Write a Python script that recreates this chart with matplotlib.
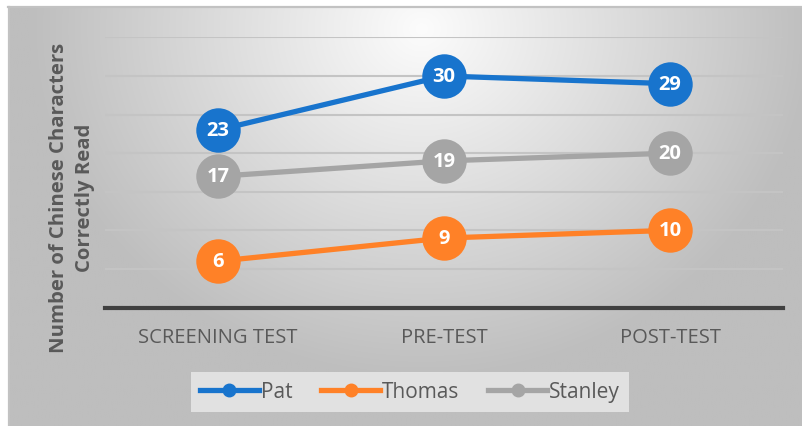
import numpy as np
import matplotlib
matplotlib.use("Agg")
import matplotlib.pyplot as plt
from matplotlib.lines import Line2D

categories = ["SCREENING TEST", "PRE-TEST", "POST-TEST"]
series_names = ["Pat", "Thomas", "Stanley"]
pat = [23, 30, 29]
thomas = [6, 9, 10]
stanley = [17, 19, 20]
colors = ["#1874CD", "#FF8127", "#A5A5A5"]
ylabel = "Number of Chinese Characters\nCorrectly Read"

plt.rcParams['font.family'] = ['Open Sans', 'DejaVu Sans']

W, H = 802, 427
fig = plt.figure(figsize=(W / 100, H / 100), dpi=100)
fig.patch.set_facecolor("white")

# background panel with radial gradient
px0, py0 = 8, 8
bg = fig.add_axes([px0 / W, 0, (W - px0) / W, (H - py0) / H])
bg.set_axis_off()
ny, nx = 210, 400
yy, xx = np.mgrid[0:ny, 0:nx]
cx, cy = 0.52 * nx, 0.05 * ny
d = np.sqrt(((xx - cx) / (0.62 * nx)) ** 2 + ((yy - cy) / (1.05 * ny)) ** 2)
val = np.clip(252 - 78 * d, 190, 252) / 255.0
img = np.dstack([val, val, val])
bg.imshow(img, aspect="auto", extent=[0, 1, 0, 1], origin="upper", interpolation="bilinear")
bg.set_xlim(0, 1)
bg.set_ylim(0, 1)
bg.plot([0.001, 0.001], [0, 1], color="#c2c2c2", lw=1.6, transform=bg.transAxes, clip_on=False)
bg.plot([0, 1], [0.999, 0.999], color="#c2c2c2", lw=1.6, transform=bg.transAxes, clip_on=False)

# main axes
left, right = 105, 783
ybot, ytop = 308.5, 38.4
ax = fig.add_axes([left / W, (H - ybot) / H, (right - left) / W, (ybot - ytop) / H])
ax.patch.set_alpha(0)
x = np.arange(len(categories))
ax.set_xlim(-0.5, len(categories) - 0.5)
ax.set_ylim(0, 35)
for v in range(5, 36, 5):
    ax.axhline(v, color="#c4c4c4", lw=1.5, zorder=1)
for s in ["top", "right", "left"]:
    ax.spines[s].set_visible(False)
ax.spines["bottom"].set_color("#404040")
ax.spines["bottom"].set_linewidth(3.0)
ax.set_yticks([])
ax.set_xticks(x)
ax.set_xticklabels(categories, color="#595959", fontsize=14.5)
ax.tick_params(axis="x", length=0, pad=14)

for vals, c in zip([pat, thomas, stanley], colors):
    ax.plot(x, vals, color=c, lw=3.8, marker="o", markersize=32, markeredgewidth=0,
            zorder=3, clip_on=False)
    for xi, v in zip(x, vals):
        ax.text(xi, v, str(v), color="white", fontsize=14.5, fontweight="bold",
                ha="center", va="center", zorder=4)

fig.text(72 / W, (H - 198) / H, ylabel, rotation=90, ha="center", va="center",
         multialignment="center", color="#595959", fontsize=14.6, fontweight="bold",
         linespacing=1.4)

handles = [Line2D([0], [0], color=c, lw=3.8, marker="o", markersize=9) for c in colors]
leg = fig.legend(handles, series_names, loc="center", bbox_to_anchor=(410 / W, (H - 393) / H),
                 ncol=3, frameon=True, fontsize=15, handlelength=2.8, handletextpad=0.1,
                 columnspacing=1.4, borderpad=0.45, fancybox=False)
leg.get_frame().set_facecolor("#ebebeb")
leg.get_frame().set_edgecolor("none")
leg.get_frame().set_alpha(0.8)
for t in leg.get_texts():
    t.set_color("#595959")

fig.savefig("out.png", dpi=100, facecolor="white")
